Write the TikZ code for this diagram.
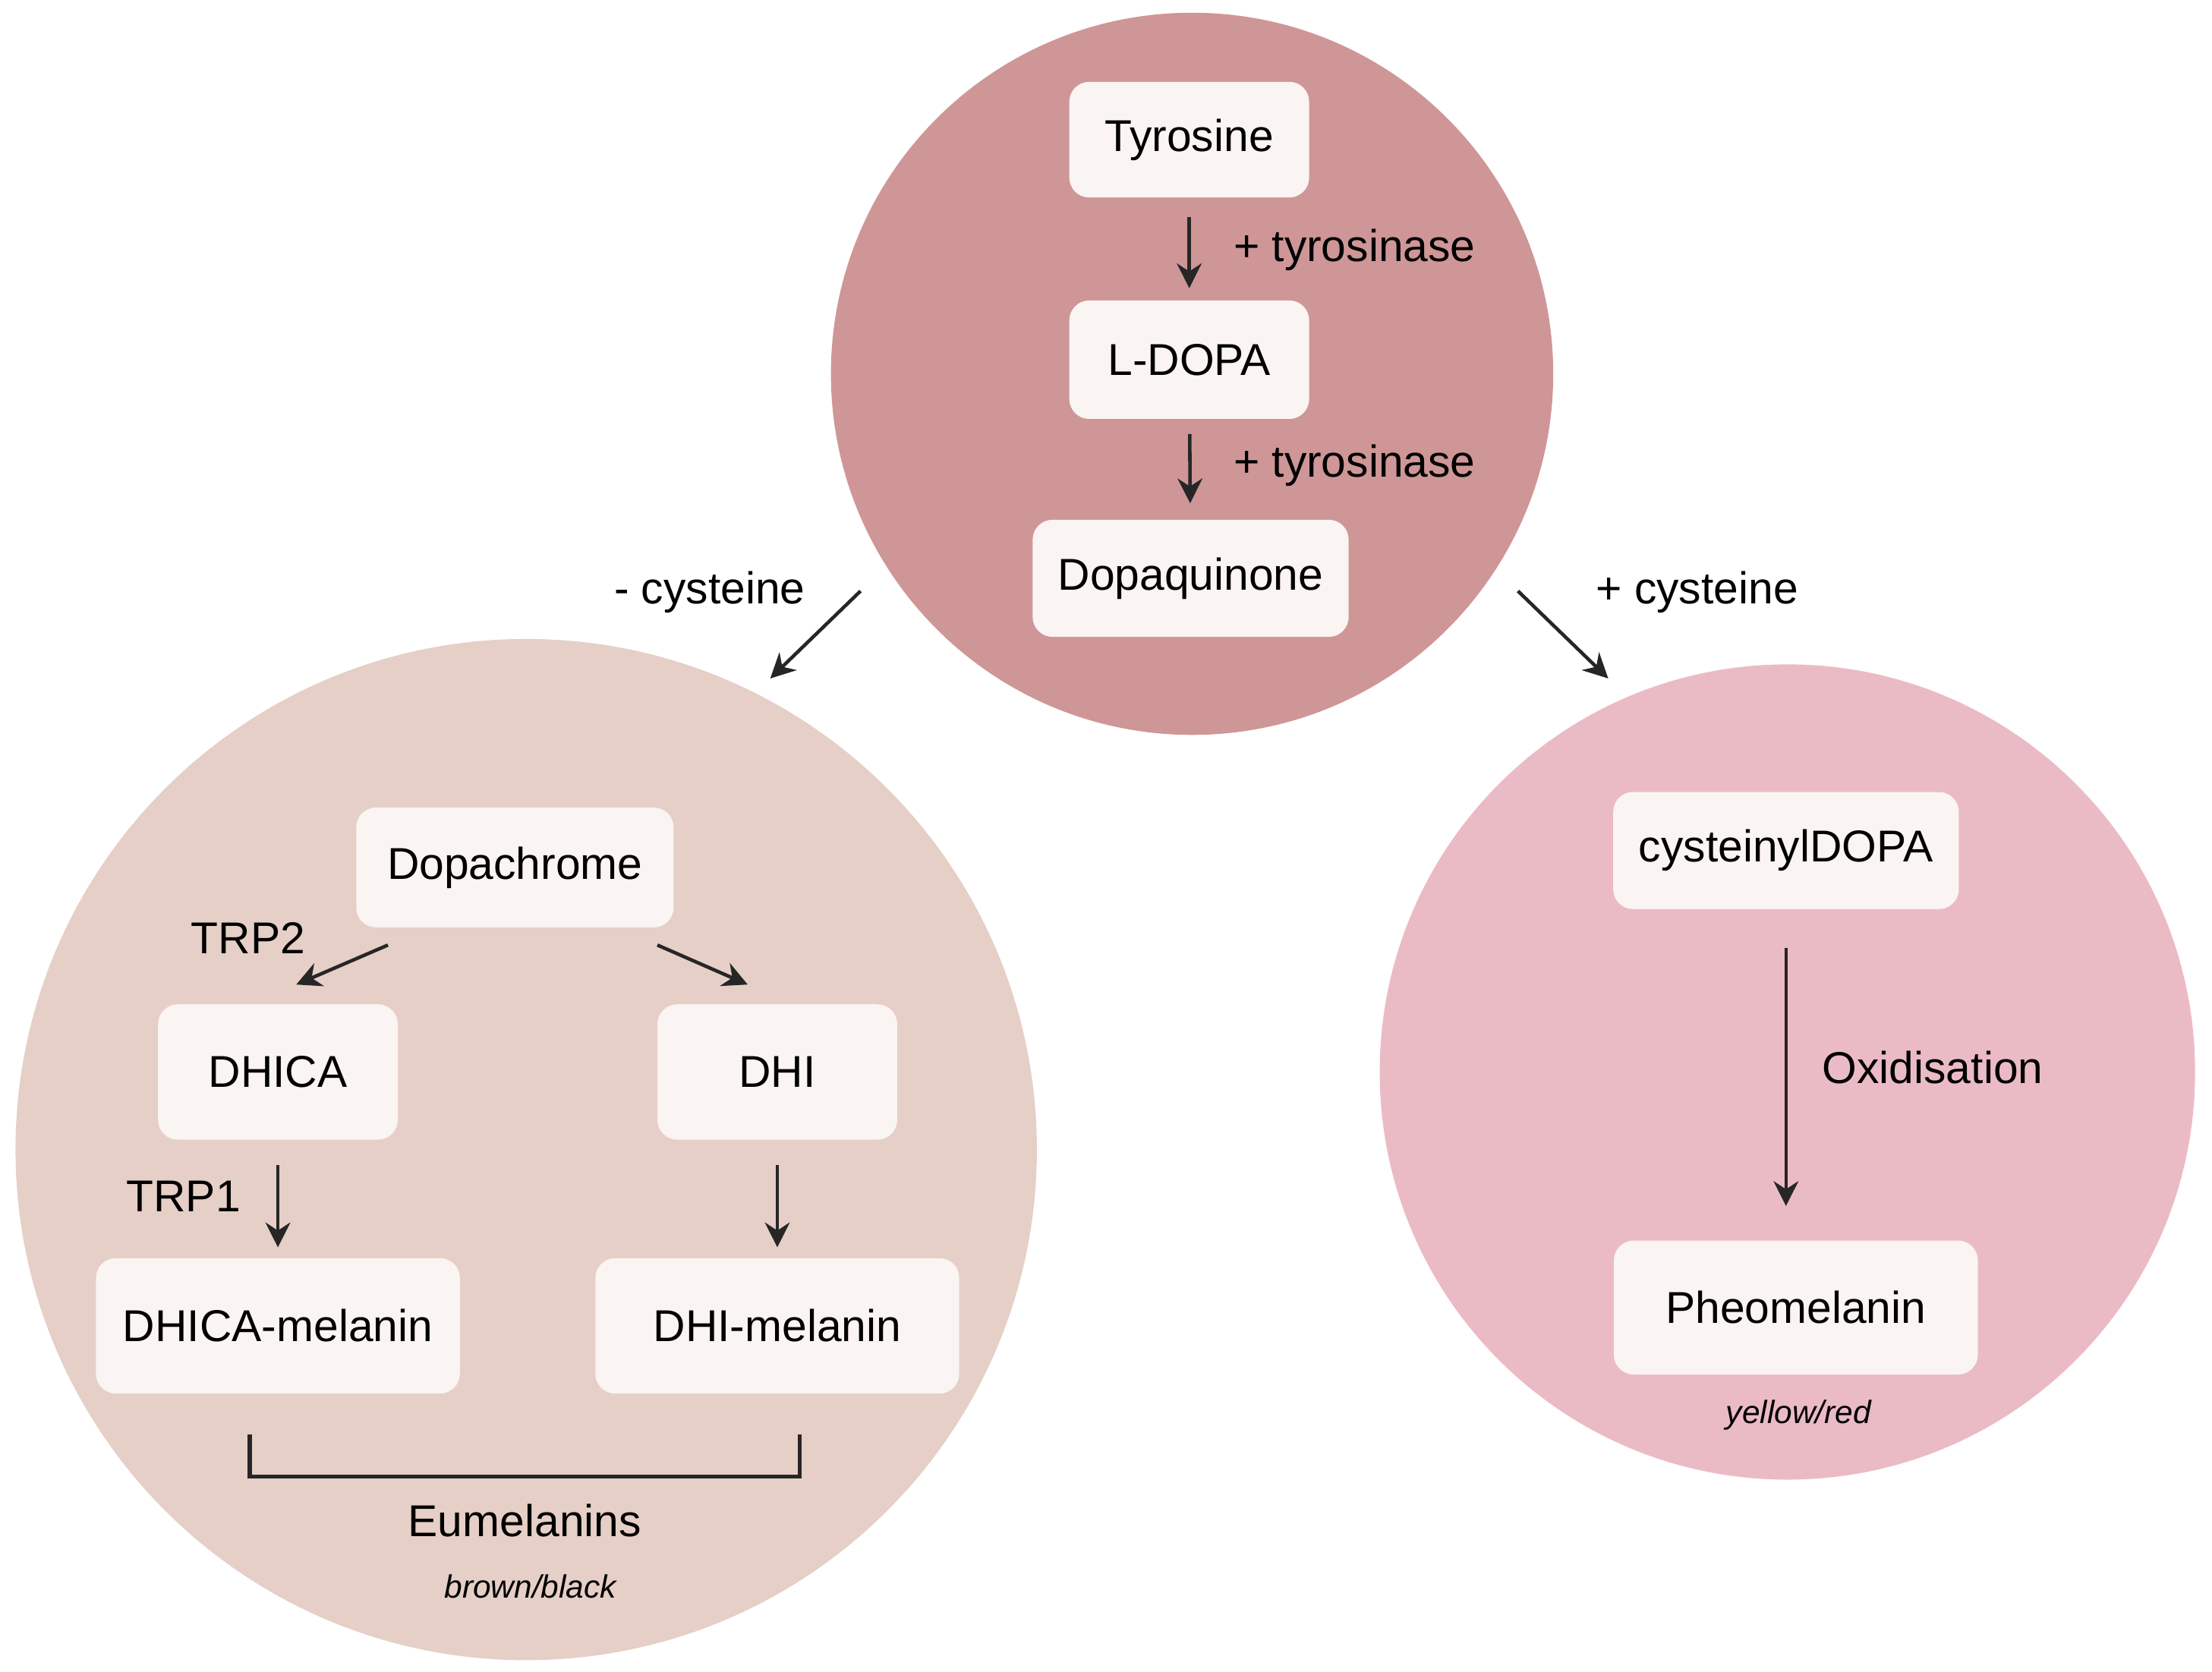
\documentclass[tikz,border=0pt]{standalone}
\usepackage{fontspec}
\setmainfont{Liberation Sans}
\usetikzlibrary{arrows.meta}
\definecolor{topc}{HTML}{CF9697}
\definecolor{leftc}{HTML}{E5CFC7}
\definecolor{rightc}{HTML}{EBBBC5}
\definecolor{boxc}{HTML}{FAF4F2}
\tikzset{
 box/.style={fill=boxc,rounded corners=4pt,minimum width=#1,font=\fontsize{9}{11}\selectfont},
 lbl/.style={font=\fontsize{9}{11}\selectfont},
 note/.style={font=\fontsize{6.5}{8}\selectfont\itshape},
 arr/.style={-{Stealth[length=5pt,width=5pt]},line width=0.7pt,black!85},
}
\begin{document}
\begin{tikzpicture}
\useasboundingbox (0,0) rectangle (15.68,-11.85);
\fill[topc] (8.45,-2.65) circle (2.56);
\fill[leftc] (3.73,-8.15) circle (3.62);
\fill[rightc] (12.67,-7.60) circle (2.89);
% boxes
\node[box=1.70cm,minimum height=0.82cm] (tyr) at (8.43,-0.99) {Tyrosine};
\node[box=1.70cm,minimum height=0.84cm] (ldopa) at (8.43,-2.55) {L-DOPA};
\node[box=2.24cm,minimum height=0.83cm] (dq) at (8.44,-4.10) {Dopaquinone};
\node[box=2.25cm,minimum height=0.85cm] (dc) at (3.65,-6.15) {Dopachrome};
\node[box=1.70cm,minimum height=0.96cm] (dhica) at (1.97,-7.60) {DHICA};
\node[box=1.70cm,minimum height=0.96cm] (dhi) at (5.51,-7.60) {DHI};
\node[box=2.58cm,minimum height=0.96cm] (dhicam) at (1.97,-9.40) {DHICA-melanin};
\node[box=2.58cm,minimum height=0.96cm] (dhim) at (5.51,-9.40) {DHI-melanin};
\node[box=2.45cm,minimum height=0.83cm] (cys) at (12.66,-6.03) {cysteinylDOPA};
\node[box=2.58cm,minimum height=0.95cm] (pheo) at (12.73,-9.27) {Pheomelanin};
% arrows
\draw[arr,shorten <=0.13cm,shorten >=0.08cm] (tyr) -- (ldopa);
\draw[arr,shorten <=0.10cm,shorten >=0.11cm] (ldopa) -- (dq);
\node[lbl,anchor=west] (t1) at (8.62,-1.77) {+ tyrosinase};
\node[lbl,anchor=west] (t2) at (8.62,-3.30) {+ tyrosinase};
\coordinate (lc1) at (6.10,-4.19); \coordinate (lc2) at (5.46,-4.81);
\coordinate (rc1) at (10.76,-4.19); \coordinate (rc2) at (11.40,-4.81);
\draw[arr] (lc1) -- (lc2);
\draw[arr] (rc1) -- (rc2);
\node[lbl] (mc) at (5.03,-4.20) {- cysteine};
\node[lbl] (pc) at (12.03,-4.20) {+ cysteine};
\coordinate (a1) at (2.75,-6.70); \coordinate (a2) at (2.10,-6.98);
\coordinate (b1) at (4.66,-6.70); \coordinate (b2) at (5.30,-6.98);
\draw[arr] (a1) -- (a2);
\draw[arr] (b1) -- (b2);
\node[lbl] (trp2) at (1.76,-6.65) {TRP2};
\draw[arr,shorten <=0.17cm,shorten >=0.07cm] (dhica) -- (dhicam);
\draw[arr,shorten <=0.17cm,shorten >=0.07cm] (dhi) -- (dhim);
\node[lbl] (trp1) at (1.30,-8.48) {TRP1};
\draw[line width=0.8pt,black!85] (1.77,-10.17) -- (1.77,-10.47) -- (5.67,-10.47) -- (5.67,-10.17);
\node[lbl] (eu) at (3.72,-10.78) {Eumelanins};
\node[note] (bb) at (3.76,-11.25) {brown/black};
\coordinate (o1) at (12.66,-6.72); \coordinate (o2) at (12.66,-8.55);
\draw[arr] (o1) -- (o2);
\node[lbl] (ox) at (13.70,-7.57) {Oxidisation};
\node[note] (yr) at (12.75,-10.03) {yellow/red};
\end{tikzpicture}
\end{document}
